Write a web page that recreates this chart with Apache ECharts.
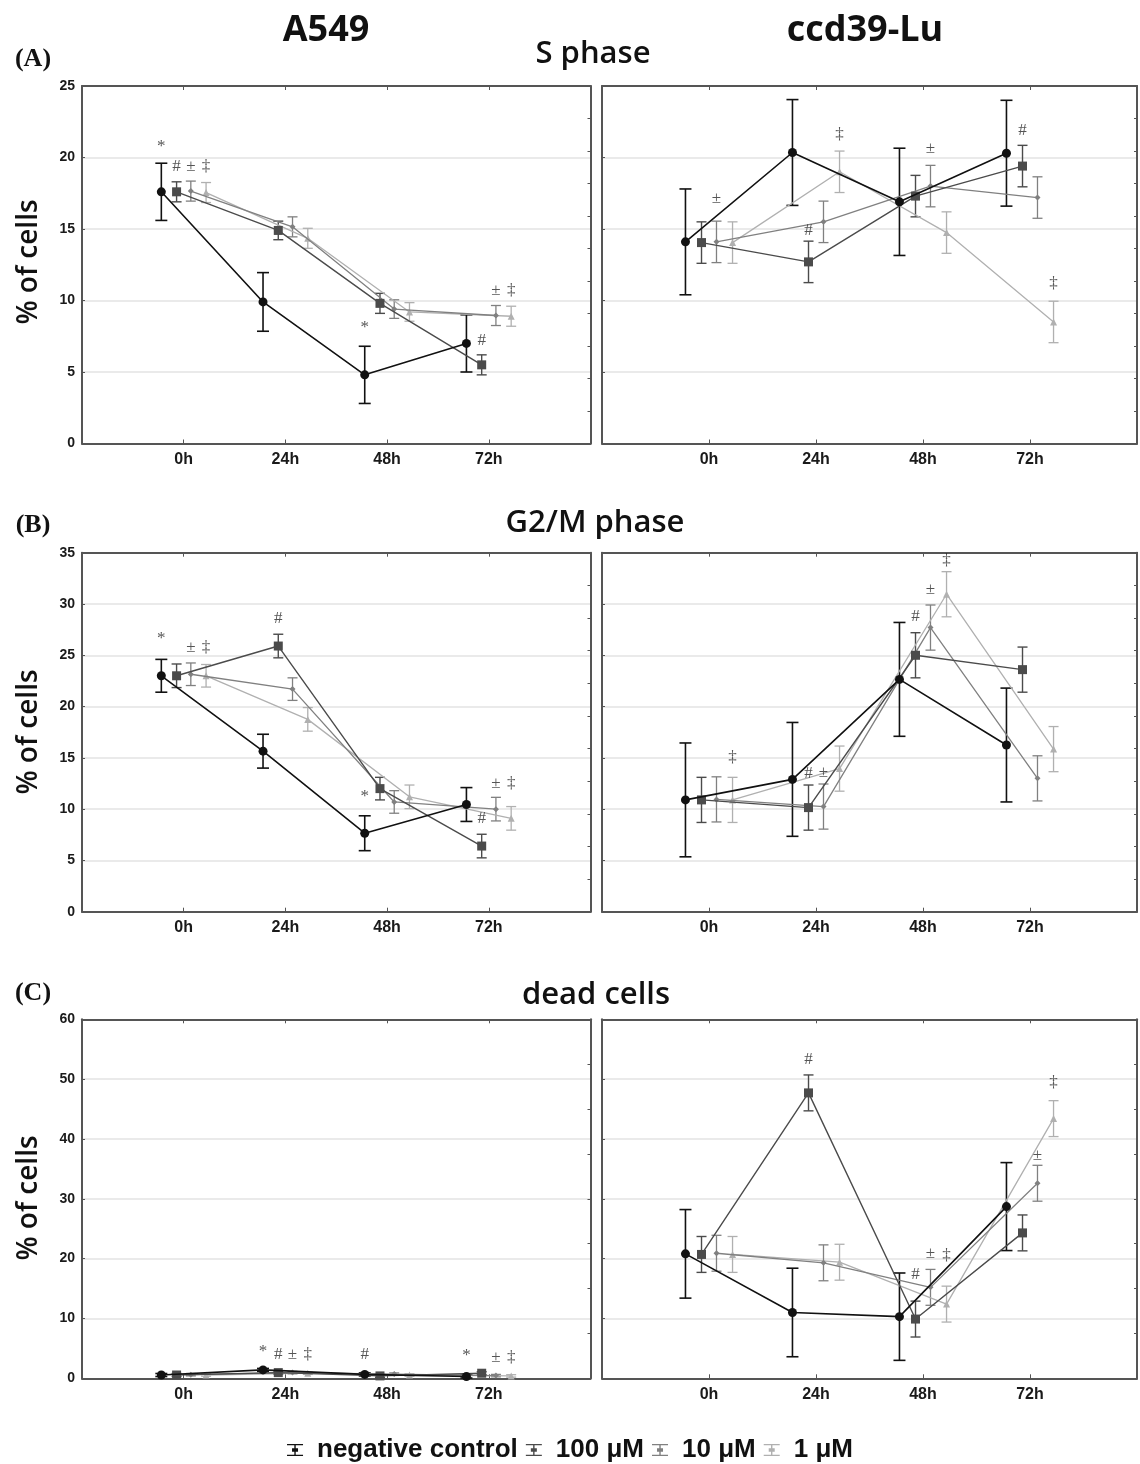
<!DOCTYPE html>
<html><head><meta charset="utf-8">
<script src="https://cdn.jsdelivr.net/npm/echarts@6/dist/echarts.min.js"></script>
<style>html,body{margin:0;padding:0;background:#fff}#c{width:1140px;height:1464px}</style>
</head><body><div id="c"></div>
<script>
// ---------- data ----------
const hours = ['0h', '24h', '48h', '72h'];
const groups = ['negative control', '100 μM', '10 μM', '1 μM'];

// S phase, A549
const sA549Mean = [[17.6, 9.9, 4.8, 7.0], [17.6, 14.9, 9.8, 5.5], [17.65, 15.15, 9.4, 8.95], [17.55, 14.35, 9.2, 8.9]];
const sA549Err  = [[2.0, 2.05, 2.0, 2.0], [0.7, 0.65, 0.7, 0.7], [0.7, 0.7, 0.65, 0.7], [0.7, 0.7, 0.65, 0.7]];
// S phase, ccd39-Lu
const sCcdMean = [[14.1, 20.35, 16.9, 20.3], [14.05, 12.7, 17.3, 19.4], [14.1, 15.5, 18.0, 17.2], [14.05, 19.0, 14.75, 8.5]];
const sCcdErr  = [[3.7, 3.7, 3.75, 3.7], [1.45, 1.45, 1.45, 1.45], [1.45, 1.45, 1.45, 1.45], [1.45, 1.45, 1.45, 1.45]];
// G2/M phase, A549
const gA549Mean = [[23.0, 15.65, 7.65, 10.45], [23.0, 25.9, 12.0, 6.4], [23.15, 21.7, 10.7, 10.0], [23.0, 18.75, 11.2, 9.1]];
const gA549Err  = [[1.6, 1.65, 1.7, 1.65], [1.15, 1.15, 1.1, 1.15], [1.1, 1.1, 1.1, 1.15], [1.1, 1.15, 1.15, 1.15]];
// G2/M phase, ccd39-Lu
const gCcdMean = [[10.9, 12.9, 22.65, 16.25], [10.9, 10.15, 25.0, 23.6], [10.95, 10.25, 27.7, 13.0], [10.9, 13.95, 30.95, 15.85]];
const gCcdErr  = [[5.55, 5.55, 5.55, 5.55], [2.2, 2.2, 2.2, 2.2], [2.2, 2.2, 2.2, 2.2], [2.2, 2.2, 2.2, 2.2]];
// dead cells, A549
const dA549Mean = [[0.55, 1.4, 0.65, 0.3], [0.55, 0.95, 0.4, 0.85], [0.6, 0.95, 0.7, 0.45], [0.55, 0.85, 0.55, 0.4]];
const dA549Err  = [[0.25, 0.25, 0.25, 0.25], [0.25, 0.25, 0.25, 0.25], [0.2, 0.2, 0.2, 0.2], [0.2, 0.2, 0.2, 0.2]];
// dead cells, ccd39-Lu
const dCcdMean = [[20.8, 11.0, 10.3, 28.7], [20.7, 47.7, 9.9, 24.3], [20.9, 19.3, 15.2, 32.6], [20.7, 19.4, 12.4, 43.4]];
const dCcdErr  = [[7.4, 7.4, 7.3, 7.35], [3.0, 3.0, 3.0, 3.0], [3.0, 3.0, 3.0, 3.0], [3.0, 3.0, 3.0, 3.0]];

// significance marks: [time index, group index, symbol, y position]
const sA549Ann = [[0,0,'*',20.8],[0,1,'#',19.4],[0,2,'±',19.4],[0,3,'‡',19.4],[2,0,'*',8.1],[3,1,'#',7.2],[3,2,'±',10.7],[3,3,'‡',10.7]];
const sCcdAnn  = [[0,2,'±',17.1],[1,1,'#',14.9],[1,3,'‡',21.6],[2,2,'±',20.6],[3,1,'#',21.9],[3,3,'‡',11.2]];
const gA549Ann = [[0,0,'*',26.6],[0,2,'±',25.8],[0,3,'‡',25.8],[1,1,'#',28.6],[2,0,'*',11.2],[3,2,'±',12.5],[3,3,'‡',12.5],[3,1,'#',9.1]];
const gCcdAnn  = [[0,3,'‡',15.0],[1,1,'#',13.5],[1,2,'±',13.6],[2,1,'#',28.8],[2,2,'±',31.4],[2,3,'‡',34.2]];
const dA549Ann = [[1,0,'*',4.4],[1,1,'#',3.9],[1,2,'±',3.9],[1,3,'‡',3.9],[2,0,'#',3.9],[3,0,'*',3.8],[3,2,'±',3.4],[3,3,'‡',3.4]];
const dCcdAnn  = [[1,1,'#',53.2],[3,3,'‡',49.4],[3,2,'±',37.3],[2,1,'#',17.3],[2,2,'±',20.9],[2,3,'‡',20.6]];

const yMax = [25, 25, 35, 35, 60, 60];
const yStep = [5, 5, 5, 5, 10, 10];

// ---------- styling ----------
const offsets = [-0.22, -0.07, 0.07, 0.22];
const colors = ['#111111', '#4b4b4b', '#808080', '#b0b0b0'];
const symbols = ['circle', 'rect', 'diamond', 'triangle'];
const symSizes = [9, 9, 6, 7];
const capHalf = [6, 5, 5, 5];
const lineW = [1.6, 1.4, 1.3, 1.3];

const panels = [
  [sA549Mean, sA549Err, sA549Ann], [sCcdMean, sCcdErr, sCcdAnn],
  [gA549Mean, gA549Err, gA549Ann], [gCcdMean, gCcdErr, gCcdAnn],
  [dA549Mean, dA549Err, dA549Ann], [dCcdMean, dCcdErr, dCcdAnn]
];
const rowTop = [86, 552.7, 1019.3];
const rowH = [357.5, 359, 359];

const grids = [], xAxes = [], yAxes = [], series = [];
const axisCol = '#555';
panels.forEach((pd, p) => {
  const col = p % 2, row = Math.floor(p / 2);
  grids.push({left: col ? 602 : 82, top: rowTop[row], width: col ? 541 : 508.5, height: rowH[row], containLabel: false});
  xAxes.push({type: 'value', gridIndex: p, min: -1, max: 4, interval: 1, position: 'bottom',
    axisLine: {onZero: false, lineStyle: {color: axisCol, width: 2}},
    axisTick: {inside: true, length: 4, lineStyle: {color: axisCol}},
    axisLabel: {margin: 8, fontSize: 16, fontWeight: 'bold', fontFamily: 'Liberation Sans', color: '#1a1a1a',
      formatter: v => (hours[v] !== undefined ? hours[v] : '')},
    splitLine: {show: false}});
  yAxes.push({type: 'value', gridIndex: p, min: 0, max: yMax[p], interval: yStep[p], position: 'left',
    axisLine: {show: true, onZero: false, lineStyle: {color: axisCol, width: 2}},
    axisTick: {show: true, inside: true, length: 3, lineStyle: {color: axisCol}},
    axisLabel: {show: col === 0, margin: 7, fontSize: 14, fontWeight: 'bold', fontFamily: 'Liberation Sans', color: '#1a1a1a'},
    splitLine: {show: true, lineStyle: {color: '#e3e3e3', width: 1.5}}});
});
panels.forEach((pd, p) => {
  xAxes.push({type: 'value', gridIndex: p, min: -1, max: 4, interval: 1, position: 'top',
    axisLine: {onZero: false, lineStyle: {color: axisCol, width: 2}},
    axisTick: {inside: true, length: 4, lineStyle: {color: axisCol}},
    axisLabel: {show: false}, splitLine: {show: false}});
  const rInt = p >= 4 ? 7.5 : yMax[p] / 11;
  yAxes.push({type: 'value', gridIndex: p, min: 0, max: yMax[p], interval: rInt, position: 'right',
    axisLine: {show: true, onZero: false, lineStyle: {color: axisCol, width: 2}},
    axisTick: {show: true, inside: true, length: 3, lineStyle: {color: axisCol}},
    axisLabel: {show: false}, splitLine: {show: false}});
});

function errRender(s) {
  return function (params, api) {
    const x = api.value(0), lo = api.value(1), hi = api.value(2);
    const a = api.coord([x, lo]), b = api.coord([x, hi]);
    const st = {stroke: colors[s], lineWidth: lineW[s]};
    const h = capHalf[s];
    return {type: 'group', children: [
      {type: 'line', shape: {x1: a[0], y1: a[1], x2: b[0], y2: b[1]}, style: st},
      {type: 'line', shape: {x1: a[0] - h, y1: a[1], x2: a[0] + h, y2: a[1]}, style: st},
      {type: 'line', shape: {x1: b[0] - h, y1: b[1], x2: b[0] + h, y2: b[1]}, style: st}
    ]};
  };
}

panels.forEach((pd, p) => {
  const [mean, err, ann] = pd;
  for (let s = 3; s >= 0; s--) {
    series.push({type: 'custom', name: 'err' + p + '_' + s, xAxisIndex: p, yAxisIndex: p,
      renderItem: errRender(s), z: 2, silent: true, animation: false,
      data: mean[s].map((v, i) => [i + offsets[s], v - err[s][i], v + err[s][i]])});
  }
  for (let s = 3; s >= 0; s--) {
    series.push({type: 'line', name: groups[s], xAxisIndex: p, yAxisIndex: p,
      data: mean[s].map((v, i) => [i + offsets[s], v]),
      symbol: symbols[s], symbolSize: symSizes[s], showAllSymbol: true,
      lineStyle: {color: colors[s], width: lineW[s]}, itemStyle: {color: colors[s]},
      z: 3 + (3 - s) * 0.1, silent: true, animation: false});
  }
  series.push({type: 'scatter', name: 'ann' + p, xAxisIndex: p, yAxisIndex: p, symbolSize: 1,
    itemStyle: {color: 'rgba(0,0,0,0)'}, silent: true, animation: false, z: 5,
    data: ann.map(a => ({value: [a[0] + offsets[a[1]], a[3]], t: a[2]})),
    label: {show: true, position: 'inside', formatter: q => q.data.t,
      fontFamily: 'Liberation Serif', fontSize: 17, color: '#2a2a2a'}});
});

// error-bar legend glyph (caps, stem and a centre marker), 16 x 12
const errIcon = 'path://M0,0H16V1.3H8.7V4.3H11V7.7H8.7V10.7H16V12H0V10.7H7.3V7.7H5V4.3H7.3V1.3H0Z';

const txt = (x, y, text, size, weight, family, extra) => Object.assign({type: 'text', x: x, y: y, silent: true,
  style: {text: text, fontSize: size, fontWeight: weight, fontFamily: family, fill: '#111', align: 'center', verticalAlign: 'middle'}}, extra || {});

const option = {
  backgroundColor: '#fff',
  animation: false,
  grid: grids, xAxis: xAxes, yAxis: yAxes, series: series,
  legend: {
    left: 'center', top: 1432, itemWidth: 16, itemHeight: 12, itemGap: 8,
    textStyle: {fontSize: 26, fontWeight: 'bold', fontFamily: 'Liberation Sans', color: '#111', padding: [0, 0, 0, 9]},
    data: groups.map((g, s) => ({name: g, icon: errIcon, itemStyle: {color: colors[s]}}))
  },
  graphic: [
    txt(326, 31, 'A549', 36, 'bold', 'Open Sans'),
    txt(865, 31, 'ccd39-Lu', 36, 'bold', 'Open Sans'),
    txt(593, 54, 'S phase', 31, 600, 'Open Sans'),
    txt(595, 523, 'G2/M phase', 31, 600, 'Open Sans'),
    txt(596, 995, 'dead cells', 31, 600, 'Open Sans'),
    txt(33, 59, '(A)', 26, 'bold', 'Liberation Serif'),
    txt(33, 525, '(B)', 26, 'bold', 'Liberation Serif'),
    txt(33, 993, '(C)', 26, 'bold', 'Liberation Serif'),
    txt(29, 262, '% of cells', 28, 600, 'Open Sans', {rotation: Math.PI / 2}),
    txt(29, 732, '% of cells', 28, 600, 'Open Sans', {rotation: Math.PI / 2}),
    txt(29, 1198, '% of cells', 28, 600, 'Open Sans', {rotation: Math.PI / 2})
  ]
};
const chart = echarts.init(document.getElementById('c'), null, {renderer: 'canvas'});
chart.setOption(option);
</script></body></html>
